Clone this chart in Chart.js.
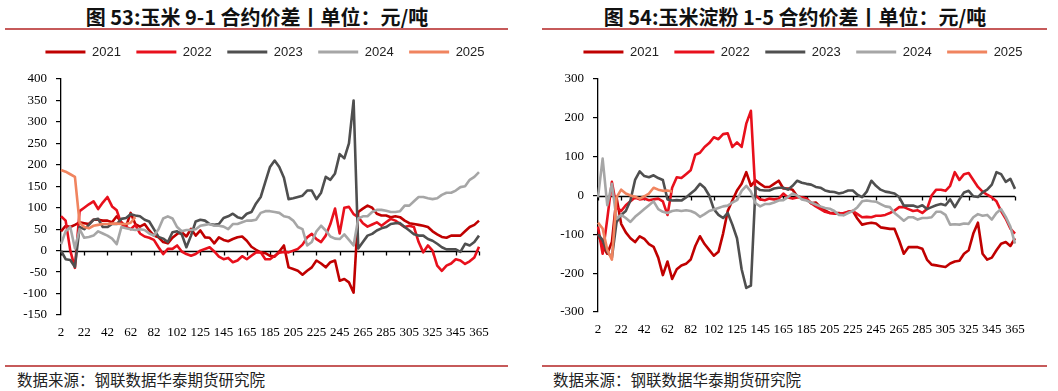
<!DOCTYPE html>
<html><head><meta charset="utf-8">
<script src="https://cdn.jsdelivr.net/npm/chart.js@4.4.1/dist/chart.umd.min.js"></script>
<style>
html,body{margin:0;padding:0;background:#fff;}
body{width:1058px;height:391px;position:relative;overflow:hidden;}
.title{position:absolute;top:3px;font-family:"Noto Sans CJK SC";font-weight:bold;font-size:20px;line-height:28px;color:#111;white-space:nowrap;transform:translateX(-50%);}
.rule{position:absolute;height:2px;background:#C65A5A;}
.src{position:absolute;top:368px;font-family:"Noto Sans CJK SC";font-size:15.5px;line-height:22px;color:#222;white-space:nowrap;}
canvas{position:absolute;top:30px;}
</style></head>
<body>
<div class="title" style="left:257px">图 53:玉米 9-1 合约价差丨单位：元/吨</div>
<div class="title" style="left:795px">图 54:玉米淀粉 1-5 合约价差丨单位：元/吨</div>
<div class="rule" style="left:5px;width:503px;top:28px"></div>
<div class="rule" style="left:542px;width:505px;top:28px"></div>
<canvas id="c1" width="530" height="330" style="left:0px"></canvas>
<canvas id="c2" width="528" height="330" style="left:530px"></canvas>
<div class="rule" style="left:5px;width:503px;top:365px"></div>
<div class="rule" style="left:542px;width:505px;top:365px"></div>
<div class="src" style="left:17px">数据来源：钢联数据华泰期货研究院</div>
<div class="src" style="left:553px">数据来源：钢联数据华泰期货研究院</div>
<script>
// category labels (day of year)
const days = [2,6,10,14,18,22,26,30,34,38,42,46,50,54,58,62,66,70,74,78,82,86,90,94,98,102,107,111,116,120,
125,129,133,137,141,145,149,153,157,161,165,169,173,177,181,185,189,193,197,201,205,209,213,217,221,225,229,233,237,241,
245,249,253,257,261,265,269,273,277,281,285,289,293,297,301,305,309,313,317,321,325,329,333,337,341,345,349,353,357,361,365];
const seriesNames = ['2021','2022','2023','2024','2025'];

// Chart 53: corn 9-1 spread
const c1_2021 = [45,58,55,60,66,64,62,72,72,70, 70,66,80,66,56,88,62,56,62,47, 35,31,20,17,30,39,43,33,51,35, 47,31,30,17,31,25,22,27,31,33, 23,9,2,-4,-6,-12,-14,-2,12,-39, -43,-47,-56,-47,-39,-23,-30,-39,-27,-23, -70,-66,-74,-98,90,98,105,100,86,82, 82,78,80,78,70,64,62,60,58,55, 45,38,32,30,35,35,35,45,55,60, 70];
const c1_2022 = [80,70,0,-40,92,100,108,115,97,112, 125,103,94,62,55,50,60,40,33,30, 25,8,-8,4,4,12,-2,-8,-12,-8, 0,4,8,-2,-14,-20,-17,-27,-23,-13, -20,-12,-4,-4,-20,-20,-12,-5,-3,-4, 0,4,14,31,39,27,20,35,62,98, 40,100,102,85,78,64,56,61,66,58, 66,74,70,62,55,58,55,20,-4,12, 0,-35,-47,-35,-30,-20,-23,-31,-25,-16, 9];
const c1_2023 = [0,-20,-22,-38,55,50,60,72,74,55, 55,62,62,74,76,85,82,80,72,68, 50,32,28,20,43,45,38,8,35,68, 72,70,62,60,62,76,80,86,78,75, 86,90,110,125,160,195,210,195,170,120, 122,125,128,140,140,120,135,172,165,180, 225,215,250,350,5,20,35,39,47,52, 55,62,64,64,55,47,38,35,35,27, 23,16,8,3,3,3,-3,16,12,20, 35];
const c1_2024 = [15,45,55,5,50,30,32,35,45,40, 35,28,15,55,52,50,48,50,48,40, 35,50,75,80,75,55,45,48,48,50, 58,60,62,58,58,56,50,62,62,66, 70,70,72,88,92,92,90,88,80,78, 70,55,50,12,20,45,58,47,33,28, 27,38,25,12,75,80,80,90,95,95, 93,90,90,92,105,105,115,125,125,122, 120,122,130,135,135,140,148,150,165,172, 183];
const c1_2025 = [188,184,178,172,65,55,52,58,60,62,62,63,63,62,62,65,78];
const c1_yTicks = {min: -150, max: 400, step: 50};

// Chart 54: corn starch 1-5 spread
const c2_2021 = [-100,-130,-150,-120,-5,-73,-95,-110,-120,-105, -112,-125,-132,-160,-205,-170,-215,-190,-180,-176, -165,-130,-105,-125,-140,-155,-145,-98,-40,-13, 13,30,60,25,39,30,22,22,30,38, 18,18,15,-2,-5,-8,-20,-18,-30,-38, -45,-45,-45,-50,-42,-40,-60,-75,-72,-70, -72,-82,-84,-86,-86,-116,-150,-133,-133,-133, -137,-165,-178,-180,-182,-184,-175,-170,-168,-150, -141,-98,-70,-150,-165,-160,-141,-124,-120,-130, -110];
const c2_2022 = [-80,-150,-60,35,-30,-40,-25,-15,-5,-10, -8,-12,-10,-8,-15,-50,20,47,45,55, 65,105,110,125,135,150,145,158,160,125, 137,125,185,218,0,-10,-12,-8,-10,-8, 5,-5,-8,-5,-5,-8,-20,-28,-35,-42, -45,-47,-47,-45,-42,-40,-48,-56,-55,-56, -52,-52,-50,-45,-39,-30,-30,-35,-40,-38, -45,-35,0,15,15,12,25,60,40,55, 58,40,22,10,2,-5,-15,-40,-60,-85, -98];
const c2_2023 = [-100,-115,-145,-160,-69,-50,-40,-13,40,62, 50,47,52,45,40,-10,-13,-12,-13,-5, 5,15,30,20,0,-35,-50,-58,-45,-75, -110,-190,-238,-232,22,14,13,13,18,20, 20,15,25,38,33,30,28,22,20,13, 10,9,5,8,13,13,2,-4,10,38, 25,15,10,8,5,-4,-26,-26,-26,-30, -25,-35,-30,-25,-22,-25,-10,-30,-10,8, 12,-2,-4,8,15,28,60,55,35,43, 17];
const c2_2024 = [-5,95,-25,30,-60,-50,-58,-68,-55,-45, -35,-25,-15,-35,-42,-45,-40,-38,-40,-38, -40,-45,-55,-48,-40,-36,-32,-28,-26,-18, -12,12,25,10,-20,-28,-22,-22,-18,-13, -12,-4,5,0,-10,-13,-18,-23,-28,-32, -34,-40,-50,-51,-45,-40,-30,-15,-13,-15, -16,-22,-28,-30,-45,-55,-65,-56,-56,-62, -58,-58,-56,-42,-42,-50,-75,-74,-75,-72, -73,-56,-48,-52,-50,-62,-45,-35,-55,-80, -124];
const c2_2025 = [-70,-85,-140,-165,-5,15,5,0,-3,-8,-2,5,20,15,12,13,10];
const c2_yTicks = {min: -300, max: 300, step: 100};

const seriesColors = ['#C00000','#E8101C','#4F4F4F','#A6A6A6','#F0845F'];
const TICK_EVERY = 5;

const zeroLinePlugin = {
  id: 'zeroLine',
  beforeDatasetsDraw(chart) {
    const {ctx, chartArea, scales} = chart;
    const x = scales.x, y = scales.y;
    const y0 = Math.round(y.getPixelForValue(0)) + 0.5;
    ctx.save();
    ctx.strokeStyle = '#000';
    ctx.lineWidth = 1.3;
    ctx.beginPath();
    ctx.moveTo(chartArea.left, y0);
    ctx.lineTo(chartArea.right, y0);
    x.ticks.forEach((t, i) => {
      if (i % TICK_EVERY === 0) {
        const px = Math.round(x.getPixelForTick(i)) + 0.5;
        ctx.moveTo(px, y0);
        ctx.lineTo(px, y0 + 4);
      }
    });
    ctx.stroke();
    ctx.restore();
  }
};

const legendGapPlugin = {
  id: 'legendGap',
  beforeLayout(chart) {
    const lg = chart.legend;
    if (lg && !lg._gapPatched) {
      const orig = lg.fit;
      lg.fit = function () { orig.call(this); this.height += 10.5; };
      lg._gapPatched = true;
    }
  }
};

function buildChart(id, series, yt, lay) {
  const datasets = series.map((d, k) => ({
    label: seriesNames[k],
    data: d,
    borderColor: seriesColors[k],
    backgroundColor: seriesColors[k],
    borderWidth: 2.6,
    pointRadius: 0,
    pointHoverRadius: 0,
    tension: 0,
    fill: false,
    borderJoinStyle: 'round',
    order: 5 - k,
    yAxisID: 'y'
  }));
  return new Chart(document.getElementById(id), {
    type: 'line',
    data: {labels: days.map(String), datasets},
    plugins: [zeroLinePlugin, legendGapPlugin],
    options: {
      responsive: false,
      animation: false,
      events: [],
      layout: {padding: {left: lay.padLeft, right: 0, top: 0, bottom: 0}},
      plugins: {
        title: {display: false},
        tooltip: {enabled: false},
        legend: {
          display: true,
          position: 'top',
          align: 'center',
          labels: {
            boxWidth: 40,
            boxHeight: 3,
            padding: 15.5,
            color: '#222',
            font: {family: '"Liberation Sans", Arial, sans-serif', size: 13},
            sort: (a, b) => a.datasetIndex - b.datasetIndex,
            generateLabels(chart) {
              return Chart.defaults.plugins.legend.labels.generateLabels(chart).map(l => Object.assign(l, {lineWidth: 0, fillStyle: l.strokeStyle}));
            }
          }
        }
      },
      scales: {
        x: {
          type: 'category',
          offset: false,
          grid: {display: false, drawTicks: false},
          border: {display: false},
          ticks: {
            autoSkip: false, maxRotation: 0, minRotation: 0, padding: 10,
            color: '#000',
            font: {family: '"Liberation Serif", "Times New Roman", serif', size: 13},
            callback: function (v, i) { return i % TICK_EVERY === 0 ? this.getLabelForValue(v) : ''; }
          },
          afterFit: s => { s.height = lay.xH; }
        },
        y: {
          type: 'linear',
          position: 'left',
          min: yt.min, max: yt.max,
          grid: {drawOnChartArea: false, drawTicks: true, tickLength: 5, color: '#000', tickColor: '#000', lineWidth: 1.2},
          border: {display: true, color: '#000', width: 1.3},
          ticks: {
            stepSize: yt.step, padding: 9, color: '#000',
            font: {family: '"Liberation Serif", "Times New Roman", serif', size: 13}
          },
          afterFit: s => { s.width = lay.yW; }
        },
        yR: {
          type: 'linear',
          position: 'right',
          display: true,
          grid: {display: false, drawTicks: false},
          border: {display: false},
          ticks: {display: false},
          afterFit: s => { s.width = lay.rW; }
        }
      }
    }
  });
}

buildChart('c1', [c1_2021, c1_2022, c1_2023, c1_2024, c1_2025], c1_yTicks, {padLeft: 0, yW: 61, rW: 51, xH: 45});
buildChart('c2', [c2_2021, c2_2022, c2_2023, c2_2024, c2_2025], c2_yTicks, {padLeft: 18, yW: 50, rW: 43, xH: 48});
</script>
</body></html>
